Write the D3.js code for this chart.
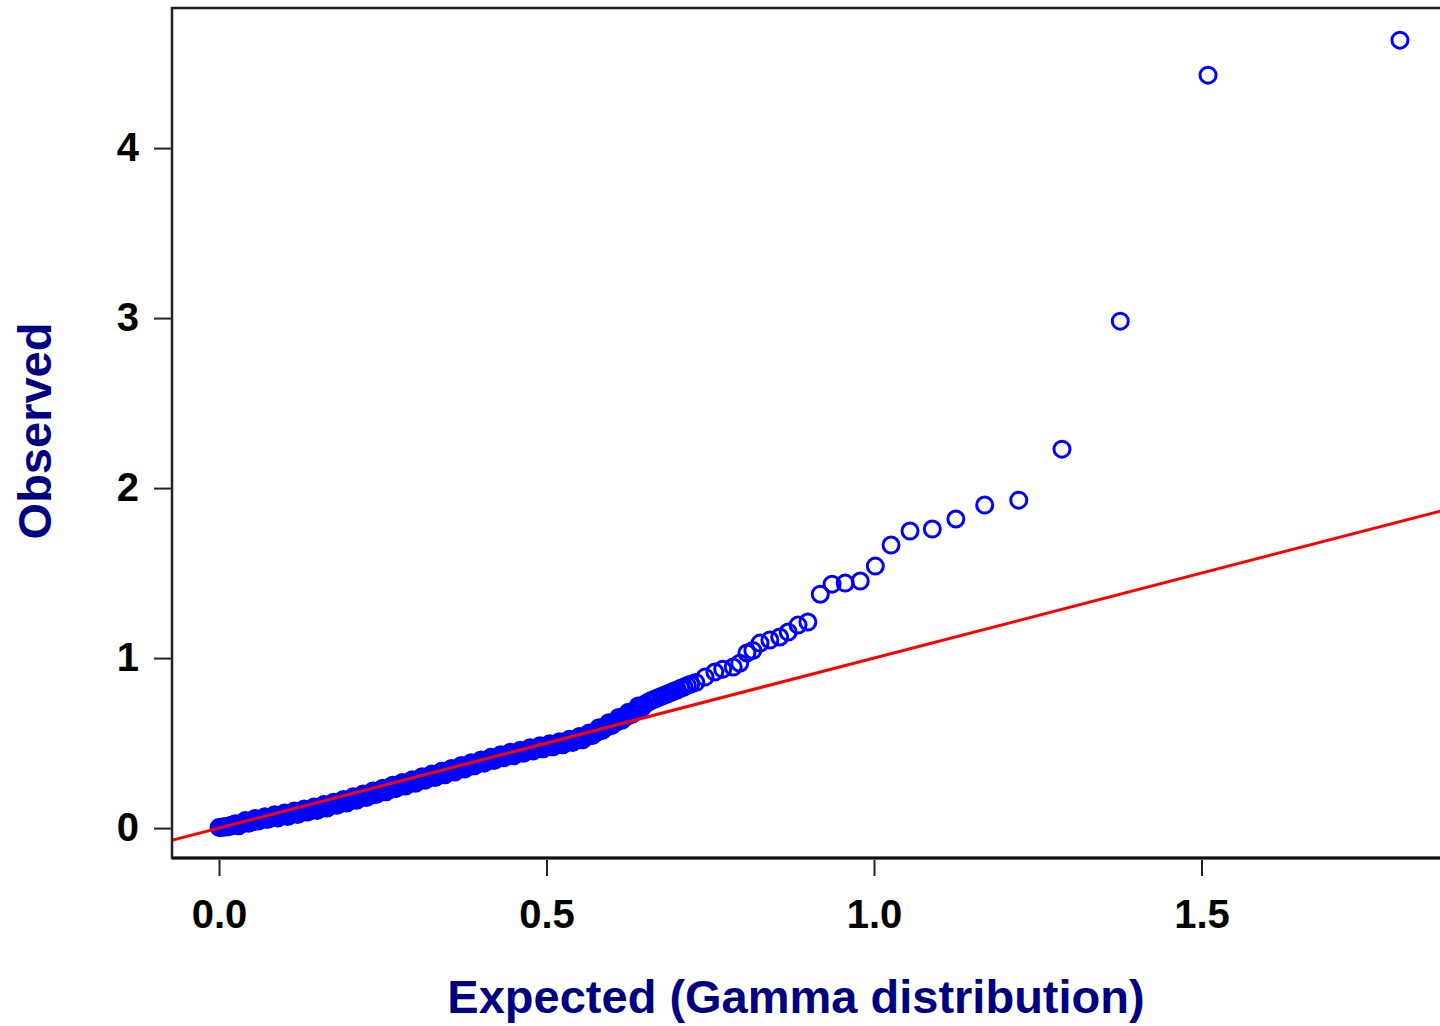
<!DOCTYPE html>
<html>
<head>
<meta charset="utf-8">
<script src="https://cdn.jsdelivr.net/npm/d3@7"></script>
<style>
  body { margin: 0; background: #fff; }
  svg { display: block; }
  .tick text { font-family: "Liberation Sans", Arial, sans-serif; font-weight: bold; font-size: 40px; fill: #000; }
  .title { font-family: "Liberation Sans", Arial, sans-serif; font-weight: bold; font-size: 47px; fill: #000080; }
</style>
</head>
<body>
<div class="canvas"></div>
<script>
// quantiles (dense band, then the sparse tail)
const expected = [
  0.000, 0.005, 0.010, 0.015, 0.020, 0.025, 0.030, 0.035, 0.040, 0.045,
  0.050, 0.055, 0.060, 0.065, 0.070, 0.075, 0.080, 0.085, 0.090, 0.095,
  0.100, 0.105, 0.110, 0.115, 0.120, 0.125, 0.130, 0.135, 0.140, 0.145,
  0.150, 0.155, 0.160, 0.165, 0.170, 0.175, 0.180, 0.185, 0.190, 0.195,
  0.200, 0.205, 0.210, 0.215, 0.220, 0.225, 0.230, 0.235, 0.240, 0.245,
  0.250, 0.255, 0.260, 0.265, 0.270, 0.275, 0.280, 0.285, 0.290, 0.295,
  0.300, 0.305, 0.310, 0.315, 0.320, 0.325, 0.330, 0.335, 0.340, 0.345,
  0.350, 0.355, 0.360, 0.365, 0.370, 0.375, 0.380, 0.385, 0.390, 0.395,
  0.400, 0.405, 0.410, 0.415, 0.420, 0.425, 0.430, 0.435, 0.440, 0.445,
  0.450, 0.455, 0.460, 0.465, 0.470, 0.475, 0.480, 0.485, 0.490, 0.495,
  0.500, 0.505, 0.510, 0.515, 0.520, 0.525, 0.530, 0.535, 0.540, 0.545,
  0.550, 0.555, 0.560, 0.565, 0.570, 0.575, 0.580, 0.585, 0.590, 0.595,
  0.600, 0.605, 0.610, 0.615, 0.620, 0.625, 0.630, 0.635, 0.640, 0.645,
  0.650, 0.655, 0.660, 0.665, 0.670, 0.675, 0.680, 0.685, 0.690, 0.695,
  0.700, 0.705, 0.710, 0.715, 0.720, 0.728,
  0.742, 0.757, 0.769, 0.785, 0.795, 0.806, 0.815, 0.826, 0.841, 0.856,
  0.869, 0.884, 0.899,
  0.918, 0.936, 0.956, 0.979, 1.002, 1.026, 1.055, 1.089, 1.125, 1.169,
  1.221, 1.287, 1.376, 1.510, 1.803
];
const observed = [
  0.004, 0.006, 0.008, 0.012, 0.018, 0.026, 0.014, 0.030, 0.044, 0.028,
  0.038, 0.056, 0.042, 0.052, 0.066, 0.052, 0.064, 0.078, 0.060, 0.072,
  0.088, 0.068, 0.086, 0.100, 0.080, 0.094, 0.112, 0.094, 0.106, 0.124,
  0.104, 0.120, 0.138, 0.118, 0.134, 0.152, 0.134, 0.148, 0.168, 0.148,
  0.164, 0.184, 0.164, 0.180, 0.200, 0.180, 0.196, 0.218, 0.198, 0.214,
  0.234, 0.214, 0.230, 0.252, 0.232, 0.248, 0.268, 0.248, 0.264, 0.284,
  0.264, 0.280, 0.302, 0.282, 0.298, 0.318, 0.298, 0.316, 0.334, 0.314,
  0.332, 0.350, 0.330, 0.348, 0.368, 0.348, 0.364, 0.384, 0.366, 0.382,
  0.400, 0.382, 0.398, 0.416, 0.398, 0.414, 0.432, 0.414, 0.430, 0.446,
  0.426, 0.442, 0.458, 0.440, 0.456, 0.472, 0.454, 0.468, 0.484, 0.466,
  0.482, 0.496, 0.478, 0.494, 0.508, 0.490, 0.506, 0.522, 0.504, 0.520,
  0.538, 0.520, 0.540, 0.560, 0.544, 0.566, 0.590, 0.574, 0.596, 0.620,
  0.604, 0.626, 0.650, 0.634, 0.656, 0.682, 0.668, 0.692, 0.718, 0.704,
  0.728, 0.740, 0.750, 0.758, 0.766, 0.774, 0.782, 0.790, 0.798, 0.806,
  0.814, 0.822, 0.830, 0.838, 0.846, 0.856,
  0.888, 0.918, 0.935, 0.947, 0.970, 1.030, 1.045, 1.088, 1.106, 1.124,
  1.153, 1.194, 1.212,
  1.376, 1.435, 1.441, 1.453, 1.541, 1.665, 1.747, 1.759, 1.818, 1.900,
  1.929, 2.229, 2.982, 4.429, 4.635
];
// centre line of the solid band between 0 and 0.65
const bandExpected = [
  0.0025, 0.0075, 0.0125, 0.0175, 0.0225, 0.0275, 0.0325, 0.0375, 0.0425, 0.0475,
  0.0525, 0.0575, 0.0625, 0.0675, 0.0725, 0.0775, 0.0825, 0.0875, 0.0925, 0.0975,
  0.1025, 0.1075, 0.1125, 0.1175, 0.1225, 0.1275, 0.1325, 0.1375, 0.1425, 0.1475,
  0.1525, 0.1575, 0.1625, 0.1675, 0.1725, 0.1775, 0.1825, 0.1875, 0.1925, 0.1975,
  0.2025, 0.2075, 0.2125, 0.2175, 0.2225, 0.2275, 0.2325, 0.2375, 0.2425, 0.2475,
  0.2525, 0.2575, 0.2625, 0.2675, 0.2725, 0.2775, 0.2825, 0.2875, 0.2925, 0.2975,
  0.3025, 0.3075, 0.3125, 0.3175, 0.3225, 0.3275, 0.3325, 0.3375, 0.3425, 0.3475,
  0.3525, 0.3575, 0.3625, 0.3675, 0.3725, 0.3775, 0.3825, 0.3875, 0.3925, 0.3975,
  0.4025, 0.4075, 0.4125, 0.4175, 0.4225, 0.4275, 0.4325, 0.4375, 0.4425, 0.4475,
  0.4525, 0.4575, 0.4625, 0.4675, 0.4725, 0.4775, 0.4825, 0.4875, 0.4925, 0.4975,
  0.5025, 0.5075, 0.5125, 0.5175, 0.5225, 0.5275, 0.5325, 0.5375, 0.5425, 0.5475,
  0.5525, 0.5575, 0.5625, 0.5675, 0.5725, 0.5775, 0.5825, 0.5875, 0.5925, 0.5975,
  0.6025, 0.6075, 0.6125, 0.6175, 0.6225, 0.6275, 0.6325, 0.6375, 0.6425, 0.6475
];
const bandObserved = [
  0.004, 0.006, 0.008, 0.012, 0.018, 0.020, 0.022, 0.030, 0.034, 0.036,
  0.038, 0.046, 0.050, 0.052, 0.054, 0.062, 0.064, 0.066, 0.070, 0.072,
  0.076, 0.078, 0.086, 0.088, 0.090, 0.094, 0.100, 0.104, 0.106, 0.112,
  0.116, 0.120, 0.126, 0.130, 0.134, 0.140, 0.146, 0.148, 0.155, 0.160,
  0.164, 0.172, 0.176, 0.180, 0.188, 0.192, 0.196, 0.206, 0.210, 0.214,
  0.222, 0.226, 0.230, 0.240, 0.244, 0.248, 0.256, 0.260, 0.264, 0.272,
  0.276, 0.280, 0.290, 0.294, 0.298, 0.306, 0.310, 0.316, 0.322, 0.326,
  0.332, 0.338, 0.342, 0.348, 0.356, 0.360, 0.364, 0.372, 0.378, 0.382,
  0.388, 0.394, 0.398, 0.404, 0.410, 0.414, 0.420, 0.426, 0.430, 0.434,
  0.438, 0.442, 0.446, 0.452, 0.456, 0.460, 0.466, 0.468, 0.472, 0.478,
  0.482, 0.484, 0.490, 0.494, 0.496, 0.502, 0.506, 0.510, 0.516, 0.520,
  0.526, 0.532, 0.540, 0.548, 0.556, 0.566, 0.576, 0.586, 0.596, 0.606,
  0.616, 0.626, 0.636, 0.646, 0.656, 0.668, 0.680, 0.692, 0.704, 0.716
];
const xTicks = [0, 0.5, 1, 1.5];
const yTicks = [0, 1, 2, 3, 4];

const W = 1440, H = 1026;
const plotL = 172, plotR = 1450, plotT = 8, plotB = 858;

const svg = d3.select(".canvas").append("svg")
  .attr("width", W)
  .attr("height", H);

const x = d3.scaleLinear().domain([-0.0718, 1.8794]).range([plotL, plotR]);
const y = d3.scaleLinear().domain([-0.176, 4.824]).range([plotB, plotT]);

svg.append("clipPath").attr("id", "plot")
  .append("rect")
  .attr("x", plotL).attr("y", plotT)
  .attr("width", plotR - plotL).attr("height", plotB - plotT);

// axes
const xAxis = svg.append("g")
  .attr("transform", `translate(0,${plotB + 2})`)
  .call(d3.axisBottom(x).tickValues(xTicks).tickFormat(d3.format(".1f"))
    .tickSize(16).tickSizeOuter(0).tickPadding(24));
xAxis.select(".domain").remove();
xAxis.selectAll(".tick line").attr("stroke", "#222").attr("stroke-width", 2);

const yAxis = svg.append("g")
  .attr("transform", `translate(${plotL - 1},0)`)
  .call(d3.axisLeft(y).tickValues(yTicks).tickFormat(d3.format("d"))
    .tickSize(17).tickSizeOuter(0).tickPadding(15));
yAxis.select(".domain").remove();
yAxis.selectAll(".tick line").attr("stroke", "#222").attr("stroke-width", 2);

const plot = svg.append("g").attr("clip-path", "url(#plot)");

const points = d3.zip(expected, observed).concat(d3.zip(bandExpected, bandObserved));

// points
plot.selectAll("circle")
  .data(points)
  .enter()
  .append("circle")
  .attr("cx", (d) => x(d[0]))
  .attr("cy", (d) => y(d[1]))
  .attr("r", 8)
  .attr("fill", "none")
  .attr("stroke", "#0000ff")
  .attr("stroke-width", 3);

// reference line y = x
plot.append("line")
  .attr("x1", x(-0.2)).attr("y1", y(-0.2))
  .attr("x2", x(2)).attr("y2", y(2))
  .attr("stroke", "#ff0000")
  .attr("stroke-width", 3);

// frame
svg.append("rect")
  .attr("x", plotL).attr("y", plotT)
  .attr("width", plotR - plotL).attr("height", plotB - plotT)
  .attr("fill", "none")
  .attr("stroke", "#222")
  .attr("stroke-width", 2.5);
svg.append("line")
  .attr("x1", plotL).attr("x2", W)
  .attr("y1", plotB).attr("y2", plotB)
  .attr("stroke", "#111")
  .attr("stroke-width", 3);

// titles
svg.append("text")
  .attr("class", "title")
  .attr("x", 796).attr("y", 1013)
  .attr("text-anchor", "middle")
  .text("Expected (Gamma distribution)");

svg.append("text")
  .attr("class", "title")
  .attr("transform", "translate(51,431) rotate(-90)")
  .attr("text-anchor", "middle")
  .text("Observed");
</script>
</body>
</html>
